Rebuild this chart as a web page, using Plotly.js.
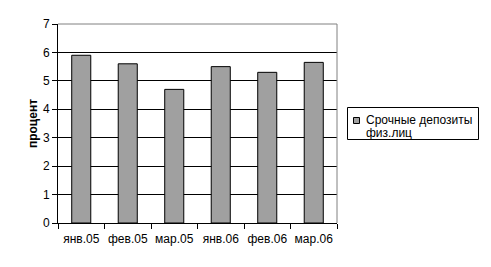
<!DOCTYPE html>
<html><head><meta charset="utf-8">
<script src="https://cdn.plot.ly/plotly-3.0.1.min.js"></script>
<style>html,body{margin:0;padding:0;background:#fff;}</style>
</head><body>
<div id="chart" style="width:491px;height:267px;"></div>
<script>
const categories = ["янв.05", "фев.05", "мар.05", "янв.06", "фев.06", "мар.06"];
const seriesLines = ["Срочные депозиты", "физ.лиц"];
const values = [5.9, 5.6, 4.7, 5.5, 5.3, 5.65];
const yTicks = [0, 1, 2, 3, 4, 5, 6, 7];
const yTitle = "процент";

const barColor = "#a0a0a0";

const trace = {
  type: "bar",
  x: categories,
  y: values,
  name: seriesLines.join(" "),
  marker: {color: barColor, line: {color: "#000", width: 1}},
  showlegend: false
};

// plot area: x 58..337, y 24..223 (px)
const px = v => (v - 58) / 279;
const py = v => (223 - v) / 199;

const layout = {
  width: 491, height: 267,
  margin: {l: 58, r: 154, t: 24, b: 44, pad: 0},
  paper_bgcolor: "#fff", plot_bgcolor: "#fff",
  font: {family: "Liberation Sans, Arial, sans-serif", size: 12, color: "#000"},
  bargap: 0.59,
  showlegend: false,
  xaxis: {
    type: "category", tickangle: 0,
    showline: true, linecolor: "#000", linewidth: 1,
    ticks: "outside", ticklen: 5, tickcolor: "#000", tickson: "boundaries",
    ticklabelstandoff: 5,
    showgrid: false, zeroline: false, fixedrange: true,
    tickfont: {size: 12}
  },
  yaxis: {
    range: [0, 7], tickvals: yTicks,
    showline: true, linecolor: "#000", linewidth: 1,
    ticks: "outside", ticklen: 5, tickcolor: "#000",
    showgrid: true, gridcolor: "#000", gridwidth: 1,
    zeroline: false, fixedrange: true,
    tickfont: {size: 12},
    title: {text: "<b>" + yTitle + "</b>", font: {size: 12}, standoff: 2}
  },
  shapes: [
    {type: "line", xref: "paper", yref: "paper", x0: 0, x1: 1, y0: 1, y1: 1, line: {color: "#808080", width: 1}},
    {type: "line", xref: "paper", yref: "paper", x0: 1, x1: 1, y0: 0, y1: 1, line: {color: "#808080", width: 1}},
    // legend box
    {type: "rect", xref: "paper", yref: "paper", x0: px(347.5), x1: px(478.5), y0: py(139.5), y1: py(107.5),
     line: {color: "#000", width: 1}, fillcolor: "#fff"},
    // legend swatch
    {type: "rect", xref: "paper", yref: "paper", x0: px(353.5), x1: px(359.5), y0: py(123.5), y1: py(117.5),
     line: {color: "#000", width: 1}, fillcolor: barColor}
  ],
  annotations: [
    {xref: "paper", yref: "paper", x: px(364), y: py(120), xanchor: "left", yanchor: "middle",
     text: seriesLines[0], showarrow: false, font: {size: 12}},
    {xref: "paper", yref: "paper", x: px(364), y: py(133), xanchor: "left", yanchor: "middle",
     text: seriesLines[1], showarrow: false, font: {size: 12}}
  ]
};

Plotly.newPlot("chart", [trace], layout, {displayModeBar: false, staticPlot: true});
</script>
</body></html>
